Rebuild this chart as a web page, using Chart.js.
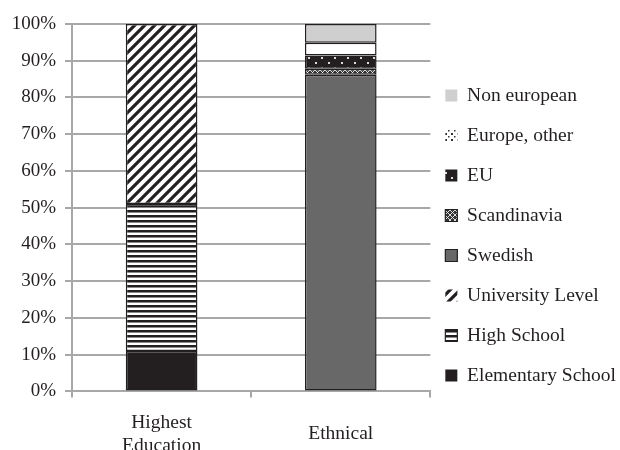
<!DOCTYPE html>
<html>
<head>
<meta charset="utf-8">
<script src="https://cdn.jsdelivr.net/npm/chart.js@4/dist/chart.umd.min.js"></script>
<style>
  html, body { margin: 0; padding: 0; background: #fff; overflow: hidden; width: 620px; height: 450px; }
  #wrap { position: relative; width: 626px; height: 494px; }
</style>
</head>
<body>
<div id="wrap"><canvas id="chart"></canvas></div>
<script>
// Categories on the x axis
const categories = [['Highest', 'Education'], 'Ethnical'];

// Series (percent of respondents), stacked bottom to top
const elementarySchool = [11, null];
const highSchool       = [40, null];
const universityLevel  = [49, null];
const swedish          = [null, 86.2];
const scandinavia      = [null, 1.6];
const eu               = [null, 3.6];
const europeOther      = [null, 3.5];
const nonEuropean      = [null, 5.1];

// Y axis ticks
const yMin = 0, yMax = 100, yStep = 10;
const tickSuffix = '%';

const INK = '#231f20';
const GRID = '#a8a8a8';
const FONT = 'Liberation Serif, Times New Roman, serif';

// Small tiles turned into canvas fill patterns
function makePattern(w, h, draw) {
  const c = document.createElement('canvas');
  c.width = w; c.height = h;
  const g = c.getContext('2d');
  draw(g, w, h);
  return g.createPattern(c, 'repeat');
}

const horizontalStripes = makePattern(1, 5, g => {
  g.fillStyle = '#fff'; g.fillRect(0, 0, 1, 5);
  g.fillStyle = INK; g.fillRect(0, 0, 1, 2);
  g.fillStyle = '#8a8a8a'; g.fillRect(0, 2, 1, 1);
});

const diagonalStripes = makePattern(10, 10, g => {
  g.fillStyle = '#fff'; g.fillRect(0, 0, 10, 10);
  g.strokeStyle = INK; g.lineWidth = 3.2;
  g.beginPath();
  g.moveTo(-5, 5); g.lineTo(5, -5);
  g.moveTo(0, 10); g.lineTo(10, 0);
  g.moveTo(5, 15); g.lineTo(15, 5);
  g.stroke();
});

const crossHatch = makePattern(5, 5, g => {
  g.fillStyle = '#333333'; g.fillRect(0, 0, 5, 5);
  g.strokeStyle = '#f0f0f0'; g.lineWidth = 0.9;
  g.beginPath();
  g.moveTo(0, 0); g.lineTo(5, 5);
  g.moveTo(5, 0); g.lineTo(0, 5);
  g.stroke();
});

const dotsOnBlack = makePattern(13, 10, g => {
  g.fillStyle = INK; g.fillRect(0, 0, 13, 10);
  g.fillStyle = '#dcdcdc';
  g.fillRect(3, 2, 2, 2);
  g.fillRect(9, 7, 2, 2);
});

const sparseDots = makePattern(6, 6, g => {
  g.fillStyle = '#fff'; g.fillRect(0, 0, 6, 6);
  g.fillStyle = '#333';
  g.fillRect(1, 1, 2, 2);
  g.fillRect(4, 4, 1.5, 1.5);
});

function series(label, data, fill) {
  return {
    label, data,
    backgroundColor: fill,
    borderColor: INK,
    borderWidth: 1.5,
    borderSkipped: false,
    barPercentage: 0.5,
    categoryPercentage: 0.8
  };
}

const datasets = [
  series('Elementary School', elementarySchool, INK),
  series('High School', highSchool, horizontalStripes),
  series('University Level', universityLevel, diagonalStripes),
  series('Swedish', swedish, '#686868'),
  series('Scandinavia', scandinavia, crossHatch),
  series('EU', eu, dotsOnBlack),
  series('Europe, other', europeOther, '#ffffff'),
  series('Non european', nonEuropean, '#cfcfcf')
];

// Legend swatch overrides
const legendFill = { 'Europe, other': sparseDots };
const legendBordered = ['Swedish', 'Scandinavia', 'High School'];

new Chart(document.getElementById('chart'), {
  type: 'bar',
  data: { labels: categories, datasets },
  options: {
    responsive: true,
    maintainAspectRatio: false,
    animation: false,
    layout: { padding: { top: 24, left: 2.7, right: 0, bottom: 0 } },
    plugins: {
      tooltip: { enabled: false },
      legend: {
        position: 'right',
        align: 'start',
        reverse: true,
        maxWidth: 240,
        title: {
          display: true,
          text: '',
          font: { family: FONT, size: 19.5, lineHeight: '23px' },
          padding: { top: 0, bottom: 23.75 }
        },
        labels: {
          boxWidth: 12,
          boxHeight: 12,
          padding: 15,
          color: INK,
          font: { family: FONT, size: 19.5, lineHeight: '25px' },
          generateLabels(chart) {
            const items = Chart.defaults.plugins.legend.labels.generateLabels(chart);
            return items.map(it => ({
              ...it,
              text: [it.text],
              fillStyle: legendFill[it.text] || it.fillStyle,
              strokeStyle: INK,
              lineWidth: legendBordered.includes(it.text) ? 1.2 : 0
            }));
          }
        }
      }
    },
    scales: {
      x: {
        stacked: true,
        grid: { drawOnChartArea: false, drawTicks: true, tickLength: 6, color: GRID, lineWidth: 2 },
        border: { color: GRID, width: 2 },
        ticks: {
          color: INK,
          padding: 25,
          crossAlign: 'center',
          maxRotation: 0,
          autoSkip: false,
          font: { family: FONT, size: 19.5, lineHeight: '23.3px' }
        }
      },
      y: {
        stacked: true,
        min: yMin,
        max: yMax,
        grid: { color: GRID, lineWidth: 2, tickLength: 7 },
        border: { color: GRID, width: 2 },
        ticks: {
          stepSize: yStep,
          padding: 9,
          color: INK,
          font: { family: FONT, size: 19 },
          callback: v => v + tickSuffix
        }
      }
    }
  }
});
</script>
</body>
</html>
